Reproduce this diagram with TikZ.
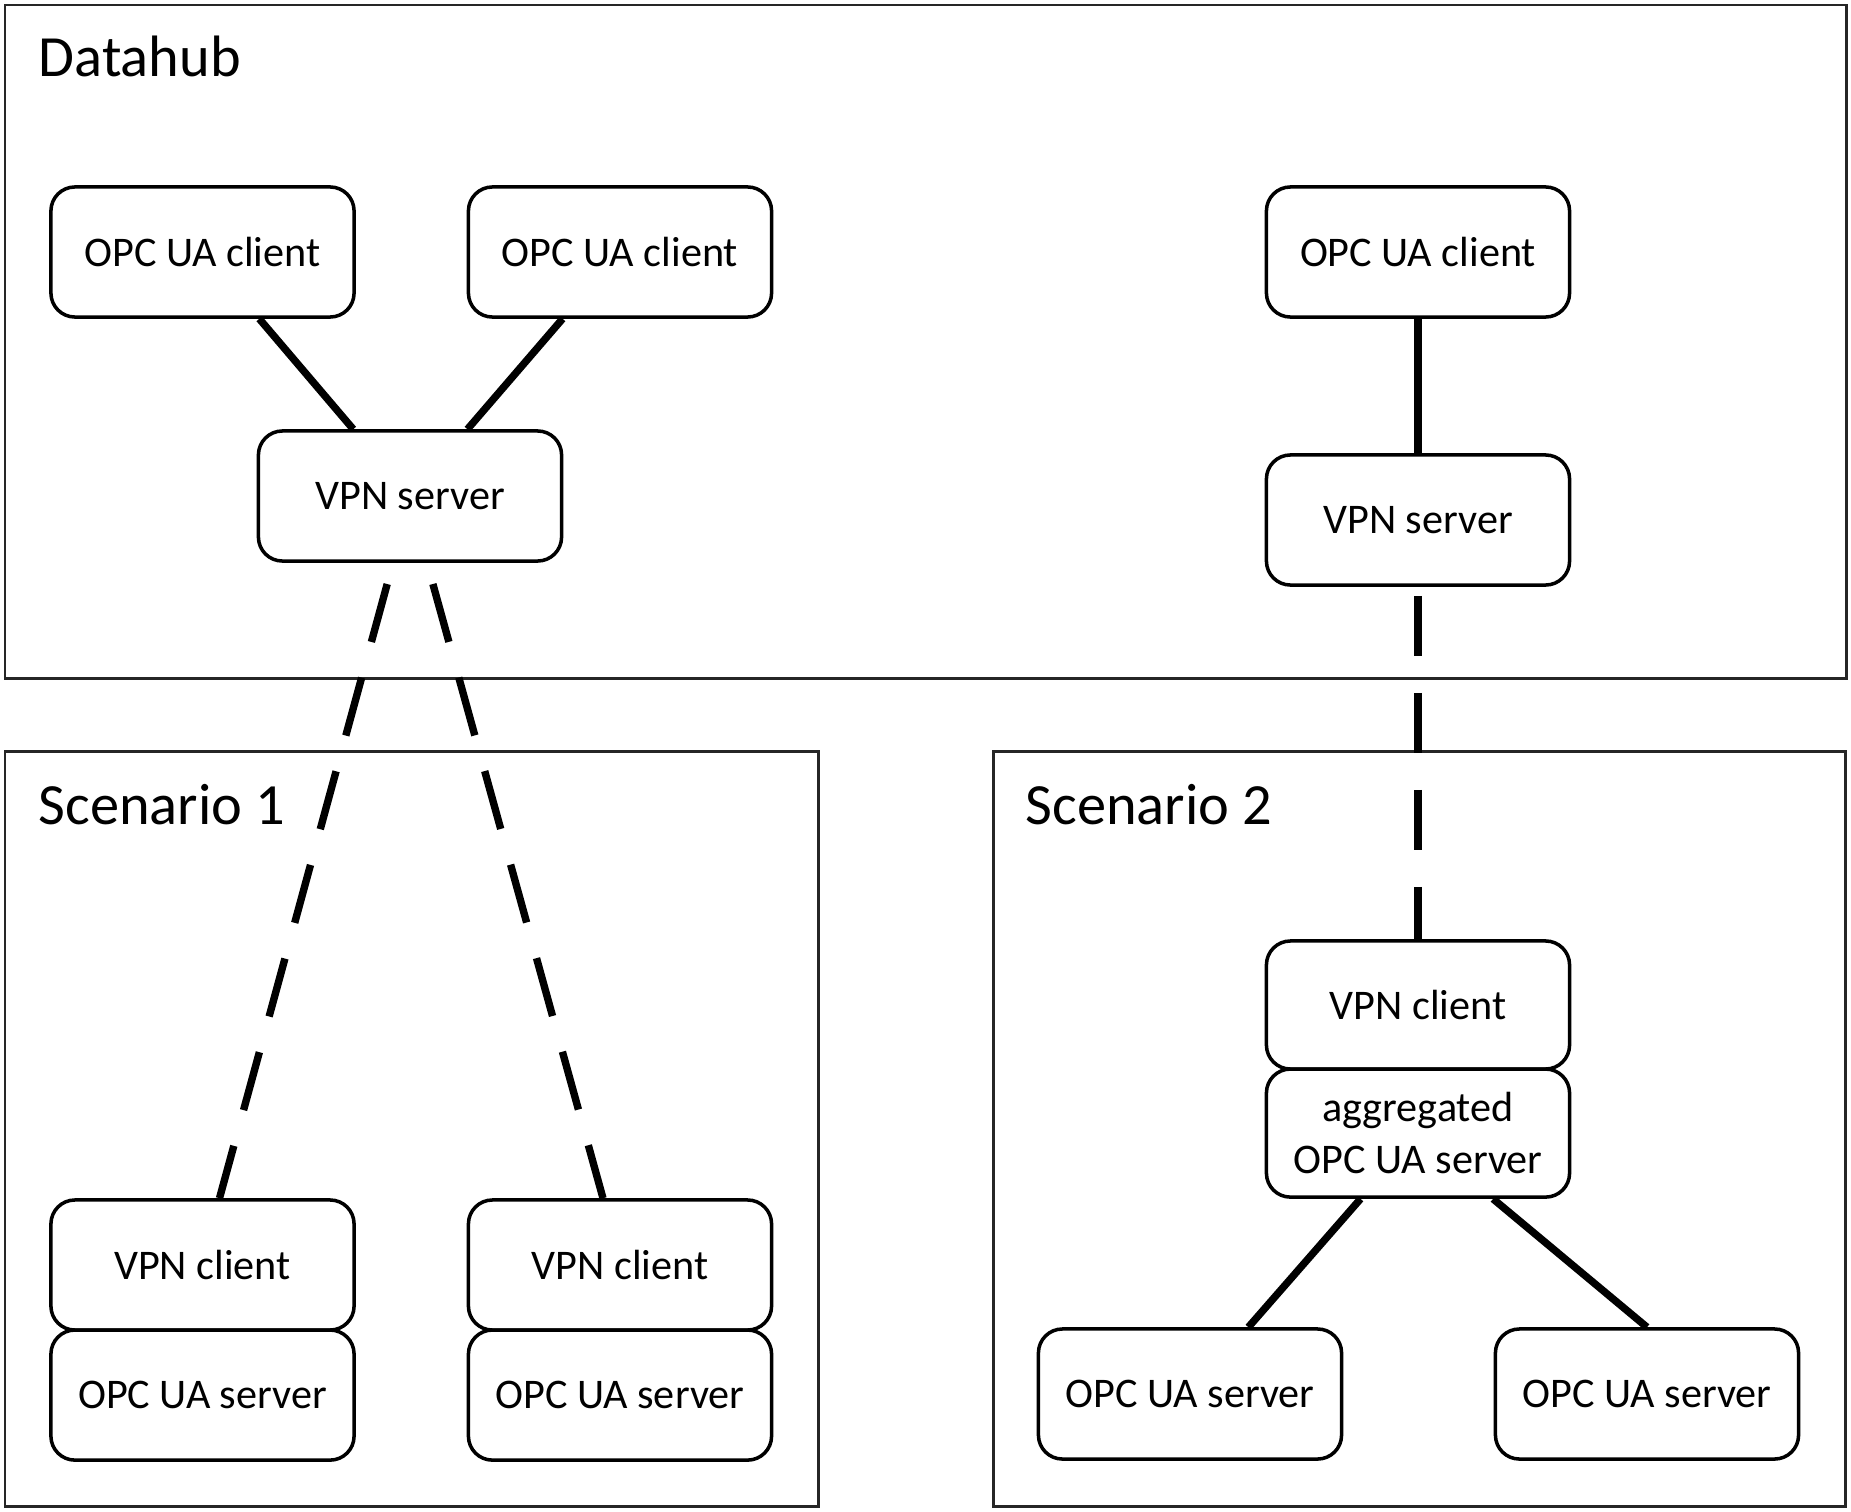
\documentclass[tikz,border=0pt]{standalone}
\usepackage{fontspec}
\setmainfont{Carlito}
\usetikzlibrary{positioning, graphs}
\tikzset{
    caja/.style={rectangle, rounded corners=0.24cm, draw=black, line width=1pt,
        minimum width=3.03cm, minimum height=1.3cm, inner sep=0pt, align=center,
        font=\fontsize{12}{15}\selectfont},
    marco/.style={draw=black!85, line width=0.85pt},
    titulo/.style={anchor=base west, inner sep=0pt, font=\fontsize{16.6}{20}\selectfont},
    enlace/.style={line width=2.1pt},
    tunel/.style={line width=2.1pt, dash pattern=on 0.6cm off 0.37cm}}

\begin{document}
\begin{tikzpicture}[x=0.01cm, y=-0.01cm]
    \useasboundingbox (0,0) rectangle (1851,1512);
    % Marcos
    \draw[marco] (5,5) rectangle (1846,678);
    \draw[marco] (5,751) rectangle (818,1506);
    \draw[marco] (993,751) rectangle (1845,1506);
    \node (tdh)[titulo] at (38,77) {Datahub};
    \node (tesc1)[titulo] at (38,824) {Scenario 1};
    \node (tesc2)[titulo] at (1025,824) {Scenario 2};
    % Datahub
    \node (cli1)[caja] at (202.5,252) {OPC UA client};
    \node (cli2)[caja] at (620,252) {OPC UA client};
    \node (cli3)[caja] at (1418,252) {OPC UA client};
    \node (vpns1)[caja] at (410,496) {VPN server};
    \node (vpns2)[caja] at (1418,520) {VPN server};
    % Escenario 1
    \node (vpnc1)[caja] at (202.5,1265) {VPN client};
    \node (srv1)[caja, below=-1pt of vpnc1] {OPC UA server};
    \node (vpnc2)[caja] at (620,1265) {VPN client};
    \node (srv2)[caja, below=-1pt of vpnc2] {OPC UA server};
    % Escenario 2
    \node (vpnc3)[caja, minimum height=1.28cm] at (1418,1005) {VPN client};
    \node (agg)[caja, minimum height=1.28cm, below=-1pt of vpnc3] {aggregated\\OPC UA server};
    \node (srv3)[caja] at (1190,1394) {OPC UA server};
    \node (srv4)[caja] at (1647,1394) {OPC UA server};

    \graph[edges=enlace]{
        (cli1) -- (vpns1) -- (cli2);
        (cli3) -- (vpns2);
        (agg) -- (srv3);};
    \draw[enlace] ([xshift=0.75cm]agg.south) -- (srv4.north);
    \draw[tunel, dash phase=0.75cm] ([xshift=-0.17cm]vpns1.south) -- ([xshift=0.17cm]vpnc1.north);
    \draw[tunel, dash phase=0.75cm] ([xshift=0.17cm]vpns1.south) -- ([xshift=-0.17cm]vpnc2.north);
    \draw[tunel, dash phase=0.88cm] (vpns2) -- (vpnc3);
\end{tikzpicture}
\end{document}
